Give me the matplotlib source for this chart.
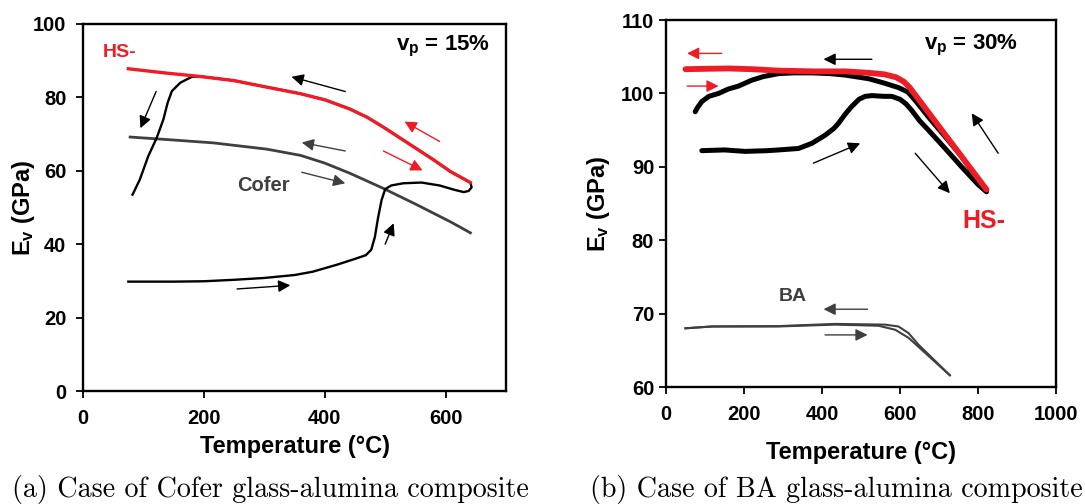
import numpy as np
import matplotlib
matplotlib.use('Agg')
import matplotlib.pyplot as plt

plt.rcParams['font.family'] = ['Liberation Sans', 'DejaVu Sans']
plt.rcParams['font.weight'] = 'bold'
plt.rcParams['mathtext.fontset'] = 'custom'
plt.rcParams['mathtext.rm'] = 'Liberation Sans:bold'
plt.rcParams['mathtext.bf'] = 'Liberation Sans:bold'
plt.rcParams['mathtext.it'] = 'Liberation Sans:bold'

RED = '#ee1c24'
GREY = '#3f3f3f'

# ---------------- (a) Cofer, vp = 15% ----------------
hs15_T = [75, 139, 194, 249, 304, 360, 401, 442, 470, 497, 525, 553, 580, 608, 641]
hs15_E = [87.8, 86.6, 85.7, 84.6, 82.8, 81.0, 79.3, 76.8, 74.6, 71.9, 68.9, 65.9, 63.0, 59.8, 56.8]

# heating from room temperature, then cooling along HS- and dropping at low T
cyc15_T = [75, 150, 200, 250, 300, 350, 380, 420, 450, 468, 477, 483, 488, 494, 500, 510, 530, 560,
           590, 615, 630, 638, 643, 641,
           608, 580, 553, 525, 497, 470, 442, 401, 360, 304, 249, 194,
           180, 161, 147, 140, 133, 122, 108, 94, 82]
cyc15_E = [29.8, 29.8, 29.9, 30.3, 30.8, 31.6, 32.5, 34.4, 36.0, 37.0, 38.5, 42.0, 47.0, 52.0, 55.0, 56.0, 56.6, 56.8,
           56.0, 54.8, 54.2, 54.5, 55.5, 56.8,
           59.8, 63.0, 65.9, 68.9, 71.9, 74.6, 76.8, 79.3, 81.0, 82.8, 84.6, 85.7,
           85.6, 84.0, 81.7, 78.5, 74.0, 69.0, 64.0, 57.6, 53.5]

cofer_T = [78, 140, 216, 304, 360, 400, 442, 497, 553, 608, 641]
cofer_E = [69.2, 68.5, 67.6, 65.9, 64.2, 62.1, 59.3, 55.2, 50.7, 46.1, 43.1]

# arrows: (T_start, E_start, T_end, E_end, colour)
arrows15 = [
    (434, 81.6, 345, 85.6, 'k'),
    (121, 81.6, 95, 71.6, 'k'),
    (590, 68.0, 532, 73.4, RED),
    (497, 65.4, 562, 60.1, RED),
    (434, 65.4, 362, 67.7, GREY),
    (362, 59.6, 434, 56.6, GREY),
    (500, 40.0, 514, 45.7, 'k'),
    (255, 27.8, 343, 28.8, 'k'),
]

# ---------------- (b) BA, vp = 30% ----------------
hs30_T = [50, 100, 160, 220, 290, 380, 460, 520, 560, 590, 610, 625, 822]
hs30_E = [103.3, 103.35, 103.4, 103.3, 103.1, 103.0, 103.0, 102.8, 102.6, 102.2, 101.6, 100.8, 86.9]

cyc30_T = [92, 150, 203, 260, 289, 340, 374, 408, 430, 442, 460, 476, 495, 511, 528, 560, 579, 600, 615,
           630, 650, 673, 716, 758, 800, 822,
           801, 758, 716, 673, 640, 620, 596, 560, 520, 459, 420, 374, 330, 289, 250, 220, 186, 160,
           135, 110, 92, 80, 75]
cyc30_E = [92.2, 92.3, 92.1, 92.2, 92.3, 92.5, 93.2, 94.3, 95.2, 95.9, 97.2, 98.2, 99.2, 99.6, 99.7, 99.6, 99.6,
           99.2, 98.6, 97.7, 96.3, 95.0, 92.5, 90.0, 87.6, 86.6,
           88.2, 91.4, 94.1, 96.8, 99.0, 100.2, 100.8, 101.4, 102.0, 102.5, 102.7, 102.8, 102.8, 102.7, 102.3,
           101.8, 101.0, 100.6, 100.0, 99.6, 98.9, 98.0, 97.5]

ba_heat_T = [50, 118, 289, 434, 545, 588, 622, 647, 728]
ba_heat_E = [68.0, 68.25, 68.25, 68.5, 68.35, 67.8, 66.7, 65.5, 61.6]
ba_cool_T = [728, 647, 622, 596, 562, 434, 289, 118, 50]
ba_cool_E = [61.6, 65.8, 67.35, 68.25, 68.5, 68.6, 68.3, 68.25, 68.0]

arrows30 = [
    (143, 105.45, 54, 105.45, RED),
    (54, 101.0, 135, 101.0, RED),
    (528, 104.65, 404, 104.65, 'k'),
    (378, 90.5, 498, 93.2, 'k'),
    (639, 91.85, 728, 86.4, 'k'),
    (852, 91.85, 784, 97.3, 'k'),
    (517, 70.6, 404, 70.6, GREY),
    (408, 67.1, 517, 67.1, GREY),
]


def style_axes(ax, ypad, ylabelpad, xlabelpad):
    for s in ax.spines.values():
        s.set_linewidth(1.7)
    ax.tick_params(direction='out', length=5, width=1.3, labelsize=14.5, top=False, right=False)
    ax.tick_params(axis='x', pad=8)
    ax.tick_params(axis='y', pad=ypad)
    for lab in ax.get_xticklabels() + ax.get_yticklabels():
        lab.set_fontweight('bold')
    ax.set_xlabel('Temperature (°C)', fontsize=17, fontweight='bold', labelpad=xlabelpad)
    ax.set_ylabel(r'E$_{\mathregular{v}}$ (GPa)', fontsize=17, fontweight='bold', labelpad=ylabelpad)


def draw_arrows(ax, arrows, lw=1.0):
    for t0, e0, t1, e1, c in arrows:
        ax.annotate('', xy=(t1, e1), xytext=(t0, e0),
                    arrowprops=dict(arrowstyle='-|>', color=c, lw=lw, mutation_scale=18,
                                    shrinkA=0, shrinkB=0))


fig = plt.figure(figsize=(10.85, 5.04), dpi=100)

ax1 = fig.add_axes([0.0765, 0.2242, 0.3899, 0.7282])
ax1.plot(cofer_T, cofer_E, color=GREY, lw=2.0)
ax1.plot(cyc15_T, cyc15_E, color='k', lw=1.7, solid_joinstyle='round')
ax1.plot(hs15_T, hs15_E, color=RED, lw=2.4)
draw_arrows(ax1, arrows15)
ax1.text(33, 92.3, 'HS-', color=RED, fontsize=14, fontweight='bold', va='center')
ax1.text(299, 55.9, 'Cofer', color=GREY, fontsize=14.5, fontweight='bold', ha='center', va='center')
ax1.text(674, 93.9, r'v$_{\mathregular{p}}$ = 15%', fontsize=16, fontweight='bold', ha='right', va='center')
ax1.set_xlim(0, 700)
ax1.set_ylim(0, 100)
ax1.set_xticks([0, 200, 400, 600])
ax1.set_yticks(np.arange(0, 101, 20))
style_axes(ax1, ypad=7, ylabelpad=-3, xlabelpad=5)

ax2 = fig.add_axes([0.6138, 0.2321, 0.3594, 0.7282])
ax2.plot(ba_heat_T, ba_heat_E, color=GREY, lw=1.5)
ax2.plot(ba_cool_T, ba_cool_E, color=GREY, lw=1.5)
ax2.plot(cyc30_T, cyc30_E, color='k', lw=3.6, solid_capstyle='round', solid_joinstyle='round')
ax2.plot(hs30_T, hs30_E, color=RED, lw=4.2, solid_capstyle='round', solid_joinstyle='round')
draw_arrows(ax2, arrows30)
ax2.text(902, 106.6, r'v$_{\mathregular{p}}$ = 30%', fontsize=16, fontweight='bold', ha='right', va='center')
ax2.text(814, 82.55, 'HS-', color=RED, fontsize=18, fontweight='bold', ha='center', va='center')
ax2.text(324, 72.3, 'BA', color=GREY, fontsize=14, fontweight='bold', ha='center', va='center')
ax2.set_xlim(0, 1000)
ax2.set_ylim(60, 110)
ax2.set_xticks(np.arange(0, 1001, 200))
ax2.set_yticks(np.arange(60, 111, 10))
style_axes(ax2, ypad=3.5, ylabelpad=6, xlabelpad=12)

fig.text(0.249, 0.028, '(a) Case of Cofer glass-alumina composite', family=['cmr10', 'DejaVu Serif'],
         fontsize=20.2, fontweight='normal', ha='center', va='center')
fig.text(0.7705, 0.028, '(b) Case of BA glass-alumina composite', family=['cmr10', 'DejaVu Serif'],
         fontsize=20.2, fontweight='normal', ha='center', va='center')

fig.savefig('out.png', dpi=100)
